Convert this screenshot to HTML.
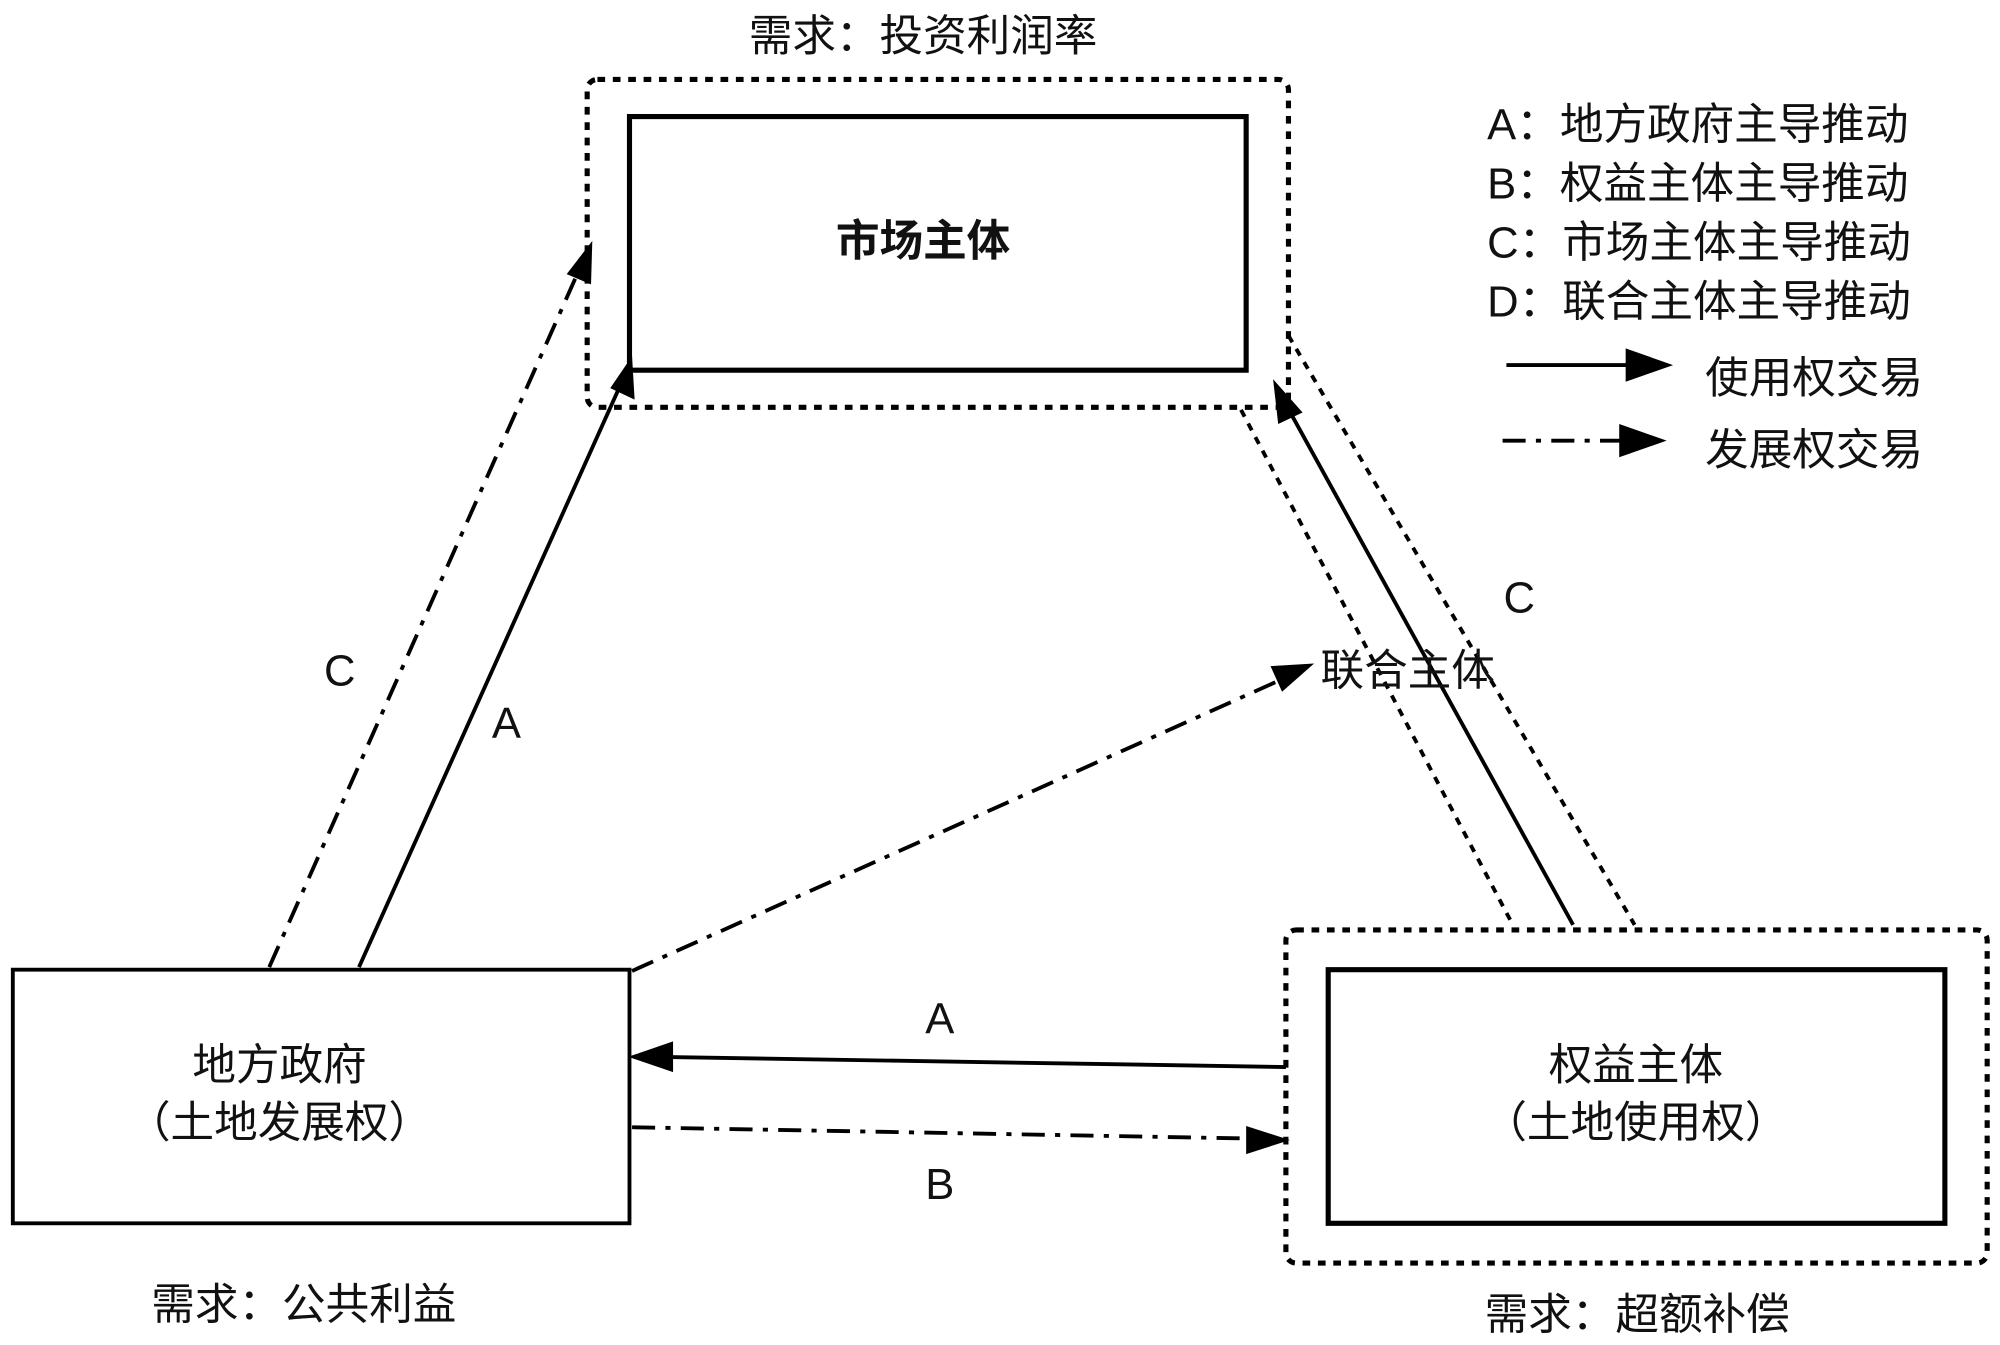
<!DOCTYPE html>
<html><head><meta charset="utf-8"><style>
html,body{margin:0;padding:0;background:#fff;width:2000px;height:1345px;overflow:hidden}
svg{display:block}
text{font-family:"Liberation Sans","Noto Sans CJK SC",sans-serif;fill:#111}
</style></head><body>
<svg width="2000" height="1345" viewBox="0 0 1560 1050" preserveAspectRatio="none" xmlns="http://www.w3.org/2000/svg">
<defs>
<marker id="ah" markerWidth="10" markerHeight="8" refX="9" refY="4" orient="auto" markerUnits="userSpaceOnUse" viewBox="0 0 10 8">
</marker>
</defs>
<g fill="none" stroke="#000">
<rect x="491" y="91" width="481" height="198" stroke-width="4"/>
<rect x="10" y="757" width="481" height="198" stroke-width="3"/>
<rect x="1036" y="757" width="481" height="198" stroke-width="4"/>
<rect x="458" y="62" width="547" height="256" rx="8" stroke-width="4" stroke-dasharray="6,6"/>
<rect x="1003" y="726" width="547" height="260" rx="8" stroke-width="4" stroke-dasharray="6,6"/>
<line x1="968" y1="320" x2="1180" y2="722" stroke-width="3" stroke-dasharray="6,6"/>
<line x1="1005" y1="262" x2="1275" y2="722" stroke-width="3" stroke-dasharray="6,6"/>
<line x1="280" y1="755" x2="486" y2="296" stroke-width="3"/>
<line x1="210" y1="755" x2="452" y2="210" stroke-width="3" stroke-dasharray="18,8,4,8"/>
<line x1="493" y1="758" x2="1005" y2="528" stroke-width="3" stroke-dasharray="18,8,4,8"/>
<line x1="1003" y1="833" x2="510" y2="825" stroke-width="3"/>
<line x1="493" y1="880" x2="985" y2="889" stroke-width="3" stroke-dasharray="18,8,4,8"/>
<line x1="1227" y1="722" x2="1002" y2="314" stroke-width="3"/>
<line x1="1175" y1="285" x2="1275" y2="285" stroke-width="3"/>
<line x1="1172" y1="344" x2="1270" y2="344" stroke-width="3" stroke-dasharray="18,8,4,8"/>
</g>
<g fill="#000">
<polygon points="493,278 495,312 476,303"/>
<polygon points="462,188 461,222 442,214"/>
<polygon points="1025,518 1000,540 991,520"/>
<polygon points="490,825 525,813 525,837"/>
<polygon points="1006,890 972,901 972,879"/>
<polygon points="993,296 1016,322 997,331"/>
<polygon points="1305,285 1268,272 1268,298"/>
<polygon points="1300,344 1263,331 1263,357"/>
</g>
<g font-size="34">
<text x="720" y="40" text-anchor="middle">需求：投资利润率</text>
<text x="720" y="200" text-anchor="middle" font-weight="bold">市场主体</text>
<text x="218" y="843" text-anchor="middle">地方政府</text>
<text x="218" y="888" text-anchor="middle">（土地发展权）</text>
<text x="1276" y="843" text-anchor="middle">权益主体</text>
<text x="1276" y="888" text-anchor="middle">（土地使用权）</text>
<text x="237" y="1030" text-anchor="middle">需求：公共利益</text>
<text x="1277" y="1038" text-anchor="middle">需求：超额补偿</text>
<text x="1030" y="535">联合主体</text>
<text x="1160" y="109">A：地方政府主导推动</text>
<text x="1160" y="155">B：权益主体主导推动</text>
<text x="1160" y="201">C：市场主体主导推动</text>
<text x="1160" y="247">D：联合主体主导推动</text>
<text x="1330" y="307">使用权交易</text>
<text x="1330" y="363">发展权交易</text>
<text x="265" y="535" text-anchor="middle">C</text>
<text x="395" y="576" text-anchor="middle">A</text>
<text x="1185" y="478" text-anchor="middle">C</text>
<text x="733" y="807" text-anchor="middle">A</text>
<text x="733" y="936" text-anchor="middle">B</text>
</g>
</svg>
</body></html>
